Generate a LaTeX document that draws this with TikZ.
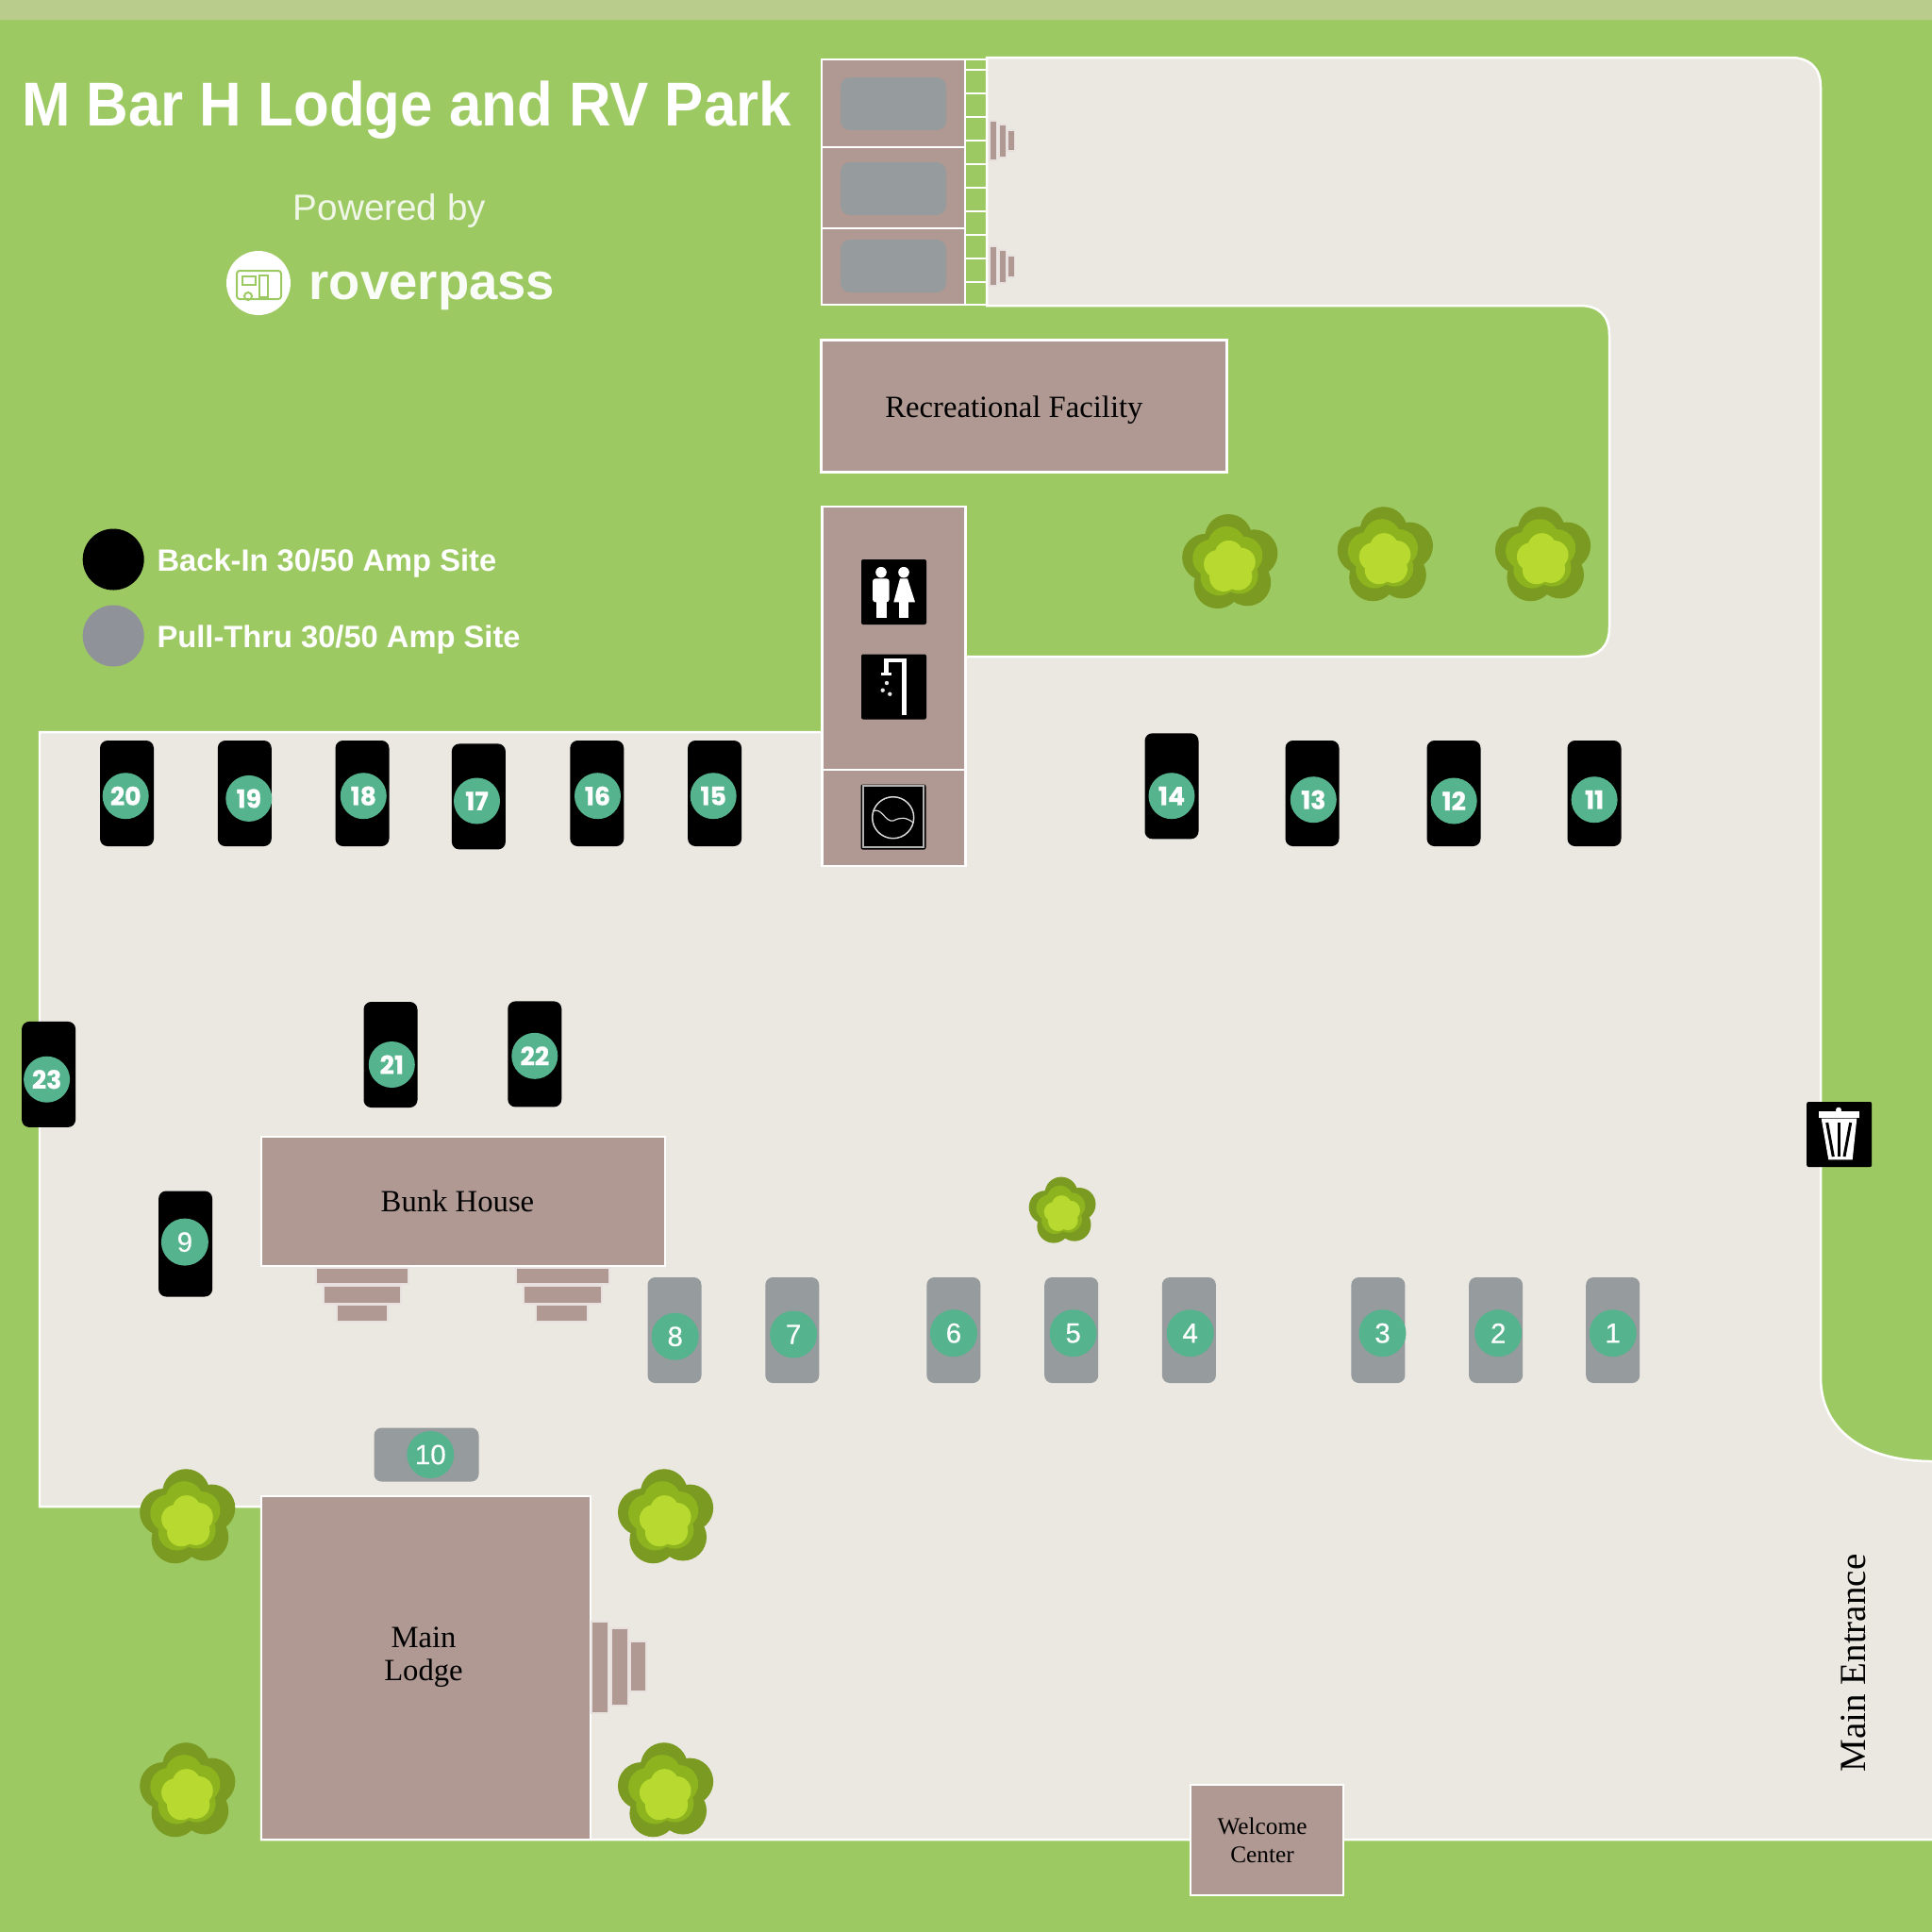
\documentclass[tikz,border=0pt]{standalone}
\usepackage{fontspec}
\setmainfont{Liberation Serif}
\setsansfont{Liberation Sans}
\newfontfamily\badgefont{Poppins}[BoldFeatures={FakeBold=0.7}]
\newfontfamily\digitfont{Liberation Sans}[FakeBold=0.35]
\definecolor{grassgreen}{HTML}{9DC963}
\definecolor{bandgreen}{HTML}{B9CC8B}
\definecolor{roadgrey}{HTML}{EBE8E2}
\definecolor{buildbrown}{HTML}{B09993}
\definecolor{pullgrey}{HTML}{969B9D}
\definecolor{legendgrey}{HTML}{8F9299}
\definecolor{badgegreen}{HTML}{55B38D}
\definecolor{treedark}{HTML}{7A9A22}
\definecolor{treemid}{HTML}{8DB41E}
\definecolor{treelight}{HTML}{B8DA30}
\tikzset{
  building/.style={rectangle,fill=buildbrown,draw=white,line width=0.025cm,inner sep=0,outer sep=0},
  stepbox/.style={building,draw=white!70!buildbrown,line width=0.015cm},
  pad/.style={rectangle,rounded corners=0.1cm,fill=pullgrey,minimum width=1.12cm,minimum height=0.56cm,inner sep=0},
  backsite/.style={rectangle,rounded corners=0.08cm,fill=black,minimum width=0.57cm,minimum height=1.12cm,inner sep=0},
  pullsite/.style={backsite,fill=pullgrey},
  backbadge/.style={circle,fill=badgegreen,text=white,minimum size=0.49cm,inner sep=0,font=\badgefont\bfseries\fontsize{7.6}{8}\selectfont},
  pullbadge/.style={circle,fill=badgegreen,text=white,minimum size=0.5cm,inner sep=0,font=\digitfont\fontsize{8.4}{9}\selectfont},
  iconbox/.style={rectangle,rounded corners=0.02cm,fill=black,minimum size=0.69cm,inner sep=0},
  placename/.style={text=black,align=center,inner sep=0,font=\fontsize{9.3}{9.9}\selectfont},
  legendtext/.style={anchor=west,text=white,inner sep=0,font=\sffamily\bfseries\fontsize{9.3}{10}\selectfont},
  legenddot/.style={circle,minimum size=0.65cm,inner sep=0},
  rung/.style={draw=white,line width=0.025cm},
  flower/.pic={
    \fill[treedark] (0.01,0) circle (0.3);
    \foreach \a in {-95,-167,-239,-311,-23} \fill[treedark] ([shift={(0.01,0)}]\a:0.27) circle (0.25);
    \begin{scope}[shift={(-0.017,-0.01)}]
      \fill[treemid] (0,0) circle (0.24);
      \foreach \a in {-95,-167,-239,-311,-23} \fill[treemid] (\a:0.18) circle (0.2);
    \end{scope}
    \begin{scope}[shift={(0.003,0.04)}]
      \fill[treelight] (0,0) circle (0.18);
      \foreach \a in {-95,-167,-239,-311,-23} \fill[treelight] (\a:0.13) circle (0.15);
    \end{scope}
  }
}
\begin{document}
\begin{tikzpicture}[y=-1cm]
\useasboundingbox (0,0) rectangle (20.48,20.48);
\fill[grassgreen] (0,0) rectangle (20.48,20.48);
\fill[bandgreen] (0,0) rectangle (20.48,0.21);

\filldraw[fill=roadgrey,draw=white,line width=0.025cm] (0.42,7.76) -- (9.5,7.76) -- (9.5,6.96) -- (16.75,6.96)
  .. controls (16.95,6.96) and (17.06,6.85) .. (17.06,6.65) -- (17.06,3.55)
  .. controls (17.06,3.35) and (16.95,3.24) .. (16.75,3.24) -- (10.46,3.24) -- (10.46,0.61) -- (18.98,0.61)
  .. controls (19.18,0.61) and (19.30,0.72) .. (19.30,0.92) -- (19.30,14.6)
  .. controls (19.30,15.15) and (19.75,15.49) .. (20.48,15.49) -- (20.6,15.49) -- (20.6,19.5) -- (2.77,19.5) -- (2.77,15.97) -- (0.42,15.97) -- cycle;

\node[text=white,inner sep=0,transform shape,xscale=0.94,font=\sffamily\bfseries\fontsize{18.7}{20}\selectfont] (title) at (4.31,1.17) {M Bar H Lodge and RV Park};
\node[text=white!85!grassgreen,inner sep=0,font=\sffamily\fontsize{11}{12}\selectfont] (powered) at (4.13,2.235) {Powered by};
\node[circle,fill=white,minimum size=0.68cm,inner sep=0] (logo) at (2.74,3.0) {};
\node[text=white!95!grassgreen,inner sep=0,font=\sffamily\bfseries\fontsize{15.5}{17}\selectfont] (rover) at (4.58,3.08) {roverpass};
\draw[grassgreen,line width=0.02cm,rounded corners=0.03cm] (2.51,2.87) rectangle (2.98,3.17);
\draw[grassgreen,line width=0.02cm] (2.57,2.93) rectangle (2.71,3.02);
\draw[grassgreen,line width=0.02cm] (2.75,2.92) rectangle (2.84,3.15);
\draw[grassgreen,line width=0.02cm] (2.63,3.14) circle (0.04);

\node[legenddot,fill=black] (backdot) at (1.202,5.93) {};
\node[legenddot,fill=legendgrey] (pulldot) at (1.202,6.74) {};
\node[legendtext] (backtext) at (1.659,5.97) {Back-In 30/50 Amp Site};
\node[legendtext] (pulltext) at (1.659,6.78) {Pull-Thru 30/50 Amp Site};

\draw[rung] (10.23,0.63) -- (10.46,0.63);
\draw[rung] (10.23,0.74) -- (10.46,0.74);
\draw[rung] (10.23,0.99) -- (10.46,0.99);
\draw[rung] (10.23,1.24) -- (10.46,1.24);
\draw[rung] (10.23,1.49) -- (10.46,1.49);
\draw[rung] (10.23,1.74) -- (10.46,1.74);
\draw[rung] (10.23,1.99) -- (10.46,1.99);
\draw[rung] (10.23,2.24) -- (10.46,2.24);
\draw[rung] (10.23,2.49) -- (10.46,2.49);
\draw[rung] (10.23,2.74) -- (10.46,2.74);
\draw[rung] (10.23,2.99) -- (10.46,2.99);
\draw[rung] (10.23,3.23) -- (10.46,3.23);

\node[building,minimum width=1.52cm,minimum height=0.93cm] (cabina) at (9.47,1.095) {};
\node[building,minimum width=1.52cm,minimum height=0.86cm] (cabinb) at (9.47,1.99) {};
\node[building,minimum width=1.52cm,minimum height=0.81cm] (cabinc) at (9.47,2.825) {};
\node[pad] (pada) at (9.47,1.10) {};
\node[pad] (padb) at (9.47,2.00) {};
\node[pad] (padc) at (9.47,2.82) {};
\node[stepbox,minimum width=0.075cm,minimum height=0.42cm] (cabstepa1) at (10.525,1.49) {};
\node[stepbox,minimum width=0.075cm,minimum height=0.35cm] (cabstepa2) at (10.625,1.495) {};
\node[stepbox,minimum width=0.075cm,minimum height=0.22cm] (cabstepa3) at (10.715,1.49) {};
\node[stepbox,minimum width=0.075cm,minimum height=0.42cm] (cabstepb1) at (10.525,2.82) {};
\node[stepbox,minimum width=0.075cm,minimum height=0.35cm] (cabstepb2) at (10.625,2.825) {};
\node[stepbox,minimum width=0.075cm,minimum height=0.23cm] (cabstepb3) at (10.715,2.825) {};

\node[building,minimum width=4.30cm,minimum height=1.40cm] (recfacility) at (10.855,4.305) {};
\node[placename] (reclabel) at (10.749,4.345) {Recreational Facility};

\node[building,minimum width=1.52cm,minimum height=2.79cm] (restrooms) at (9.475,6.765) {};
\node[building,minimum width=1.52cm,minimum height=1.02cm] (laundry) at (9.475,8.67) {};
\node[iconbox] (wc) at (9.475,6.275) {};
\node[iconbox] (shower) at (9.475,7.28) {};
\node[iconbox] (washer) at (9.47,8.66) {};

\fill[white] (9.34,6.067) circle (0.058);
\fill[white] (9.58,6.067) circle (0.058);
\fill[white,rounded corners=0.03cm] (9.25,6.133) rectangle (9.427,6.383);
\fill[white] (9.293,6.36) rectangle (9.40,6.55);
\fill[white] (9.54,6.133) -- (9.473,6.383) -- (9.70,6.383) -- (9.62,6.133) -- cycle;
\fill[white] (9.533,6.38) rectangle (9.627,6.55);

\draw[white,line width=0.045cm] (9.583,7.583) -- (9.583,7.0) -- (9.393,7.0) -- (9.393,7.13);
\draw[white,line width=0.035cm] (9.34,7.143) -- (9.45,7.143);
\fill[white!90!black] (9.40,7.24) circle (0.022);
\fill[white!90!black] (9.357,7.317) circle (0.022);
\fill[white!90!black] (9.433,7.357) circle (0.022);

\draw[white!70!black,line width=0.017cm] (9.15,8.333) rectangle (9.793,8.983);
\draw[white!85!black,line width=0.015cm] (9.467,8.667) circle (0.22);
\draw[white!85!black,line width=0.012cm] (9.25,8.60) .. controls (9.35,8.55) and (9.38,8.72) .. (9.47,8.70) .. controls (9.55,8.66) and (9.6,8.66) .. (9.683,8.72);

\node[backsite] (site20) at (1.345,8.41) {};
\node[backsite] (site19) at (2.593,8.41) {};
\node[backsite] (site18) at (3.84,8.41) {};
\node[backsite] (site17) at (5.074,8.444) {};
\node[backsite] (site16) at (6.328,8.41) {};
\node[backsite] (site15) at (7.576,8.41) {};
\node[backsite] (site14) at (12.42,8.333) {};
\node[backsite] (site13) at (13.91,8.41) {};
\node[backsite] (site12) at (15.41,8.41) {};
\node[backsite] (site11) at (16.90,8.41) {};
\node[backsite] (site21) at (4.14,11.18) {};
\node[backsite] (site22) at (5.668,11.174) {};
\node[backsite] (site23) at (0.516,11.389) {};
\node[backsite] (site9) at (1.966,13.185) {};
\node[pullsite] (site8) at (7.15,14.10) {};
\node[pullsite] (site7) at (8.398,14.10) {};
\node[pullsite] (site6) at (10.109,14.10) {};
\node[pullsite] (site5) at (11.357,14.10) {};
\node[pullsite] (site4) at (12.604,14.10) {};
\node[pullsite] (site3) at (14.609,14.10) {};
\node[pullsite] (site2) at (15.856,14.10) {};
\node[pullsite] (site1) at (17.097,14.10) {};
\node[pullsite,minimum width=1.11cm,minimum height=0.57cm] (site10) at (4.52,15.42) {};

\node[backbadge] (badge20) at (1.332,8.437) {20};
\node[backbadge] (badge19) at (2.638,8.464) {19};
\node[backbadge] (badge18) at (3.853,8.437) {18};
\node[backbadge] (badge17) at (5.055,8.49) {17};
\node[backbadge] (badge16) at (6.335,8.437) {16};
\node[backbadge] (badge15) at (7.562,8.437) {15};
\node[backbadge] (badge14) at (12.42,8.437) {14};
\node[backbadge] (badge13) at (13.923,8.477) {13};
\node[backbadge] (badge12) at (15.412,8.49) {12};
\node[backbadge] (badge11) at (16.901,8.477) {11};
\node[backbadge] (badge21) at (4.153,11.285) {21};
\node[backbadge] (badge22) at (5.668,11.193) {22};
\node[backbadge] (badge23) at (0.496,11.442) {23};
\node[pullbadge] (badge9) at (1.959,13.166) {9};
\node[pullbadge] (badge8) at (7.157,14.167) {8};
\node[pullbadge] (badge7) at (8.411,14.145) {7};
\node[pullbadge] (badge6) at (10.109,14.132) {6};
\node[pullbadge] (badge5) at (11.376,14.132) {5};
\node[pullbadge] (badge4) at (12.617,14.132) {4};
\node[pullbadge] (badge3) at (14.655,14.132) {3};
\node[pullbadge] (badge2) at (15.882,14.132) {2};
\node[pullbadge] (badge1) at (17.097,14.132) {1};
\node[pullbadge] (badge10) at (4.563,15.42) {10};

\node[building,minimum width=4.28cm,minimum height=1.37cm] (bunkhouse) at (4.91,12.735) {};
\node[placename] (bunklabel) at (4.85,12.73) {Bunk House};
\node[stepbox,minimum width=0.98cm,minimum height=0.17cm] (bunkstepa1) at (3.84,13.525) {};
\node[stepbox,minimum width=0.82cm,minimum height=0.19cm] (bunkstepa2) at (3.84,13.725) {};
\node[stepbox,minimum width=0.54cm,minimum height=0.18cm] (bunkstepa3) at (3.84,13.92) {};
\node[stepbox,minimum width=0.99cm,minimum height=0.17cm] (bunkstepb1) at (5.965,13.525) {};
\node[stepbox,minimum width=0.83cm,minimum height=0.19cm] (bunkstepb2) at (5.965,13.725) {};
\node[stepbox,minimum width=0.55cm,minimum height=0.18cm] (bunkstepb3) at (5.955,13.92) {};

\node[building,minimum width=3.49cm,minimum height=3.64cm] (mainlodge) at (4.515,17.68) {};
\node[placename,font=\fontsize{9.3}{10}\selectfont] (lodgelabel) at (4.49,17.57) {Main\\Lodge};
\node[stepbox,minimum width=0.18cm,minimum height=0.97cm] (lodgestep1) at (6.36,17.675) {};
\node[stepbox,minimum width=0.18cm,minimum height=0.82cm] (lodgestep2) at (6.57,17.67) {};
\node[stepbox,minimum width=0.17cm,minimum height=0.53cm] (lodgestep3) at (6.765,17.665) {};

\node[building,minimum width=1.62cm,minimum height=1.17cm] (welcome) at (13.43,19.505) {};
\node[placename,font=\fontsize{7.2}{8.4}\selectfont] (welcomelabel) at (13.38,19.51) {Welcome\\Center};
\node[placename,rotate=90,font=\fontsize{11.1}{12}\selectfont] (entrance) at (19.65,17.63) {Main Entrance};

\node[iconbox] (trash) at (19.497,12.025) {};
\fill[white] (19.277,11.78) rectangle (19.707,11.85);
\fill[white] (19.49,11.767) circle (0.03);
\fill[white] (19.307,11.857) -- (19.683,11.857) -- (19.637,12.293) -- (19.383,12.293) -- cycle;
\draw[black,line width=0.03cm] (19.367,11.90) -- (19.433,12.26);
\draw[black,line width=0.03cm] (19.49,11.90) -- (19.49,12.26);
\draw[black,line width=0.03cm] (19.617,11.90) -- (19.55,12.26);

\pic (treea) at (13.035,5.969) {flower};
\pic (treeb) at (14.681,5.891) {flower};
\pic (treec) at (16.353,5.891) {flower};
\pic[scale=0.7] (treed) at (11.259,12.839) {flower};
\pic (treee) at (1.985,16.091) {flower};
\pic (treef) at (7.053,16.091) {flower};
\pic (treeg) at (1.985,18.991) {flower};
\pic (treeh) at (7.053,18.991) {flower};
\end{tikzpicture}
\end{document}
